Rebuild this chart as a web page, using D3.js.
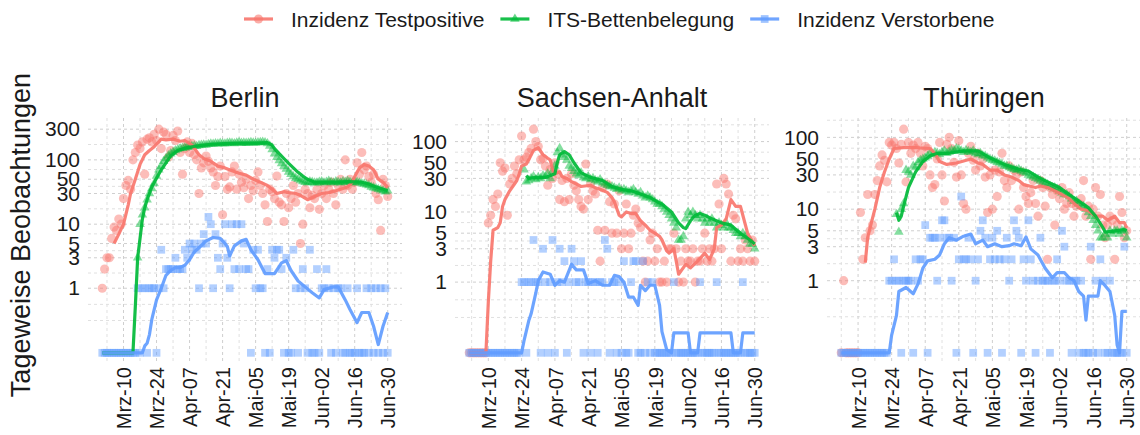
<!DOCTYPE html>
<html>
<head>
<meta charset="utf-8">
<script src="https://cdn.jsdelivr.net/npm/d3@7"></script>
<style>
  html, body { margin: 0; padding: 0; background: #fff; }
  svg { display: block; font-family: "Liberation Sans", Arial, sans-serif; }
</style>
</head>
<body>
<div id="chart"></div>
<script>
// ---- labels / categories ----
const SERIES_NAMES = ["Inzidenz Testpositive", "ITS-Bettenbelegung", "Inzidenz Verstorbene"];
const SERIES_COLORS = ["#F8766D", "#00BA38", "#619CFF"];
const PANEL_TITLES = ["Berlin", "Sachsen-Anhalt", "Thüringen"];
const X_TICK_DATES = ["03-10", "03-24", "04-07", "04-21", "05-05", "05-19", "06-02", "06-16", "06-30"];
const X_TICK_LABELS = ["Mrz-10", "Mrz-24", "Apr-07", "Apr-21", "Mai-05", "Mai-19", "Jun-02", "Jun-16", "Jun-30"];
const Y_BREAKS = [1, 3, 5, 10, 30, 50, 100, 300];
const Y_TITLE = "Tageweise Beobachtungen";

// ---- Berlin (daily values) ----
const berlinTestStart = "03-01";
const berlinTestPts = [
  1, 2, 3, 3, 6, 9, 8, 12, 10, 25,
  40, 48, 35, 100, 130, 170, 150, 190, 60, 210,
  220, 190, 250, 200, 300, 150, 270, 250, 110, 140, 240,
  200, 280, 130, 60, 150, 190, 130, 180, 120, 100,
  30, 75, 90, 115, 95, 75, 65, 40, 55, 80,
  14, 55, 35, 38, 65, 80, 35, 60, 45, 37,
  50, 25, 40, 33, 48, 65, 40, 30, 20, 11,
  35, 32, 25, 56, 22, 20, 11, 30, 18, 25,
  40, 22, 30, 5, 10, 35, 30, 18, 28, 25, 35,
  17, 30, 40, 25, 35, 45, 30, 20, 40, 50,
  35, 100, 40, 50, 35, 45, 90, 60, 130, 70,
  80, 55, 45, 60, 30, 24, 8, 50, 40, 27
];
const berlinItsStart = "03-16";
const berlinItsPts = [
  3, 10, 14, 18, 24, 30, 36, 43, 56, 70, 80, 95, 105, 117, 125, 132,
  140, 145, 150, 152, 155, 158, 160, 162, 165, 163, 168, 170, 172, 170, 175,
  178, 176, 180, 178, 182, 180, 178, 182, 185, 183, 180, 185, 187, 183, 185,
  182, 185, 188, 185, 183, 186, 188, 190, 186, 180, 165, 145, 125, 110, 98,
  88, 80, 72, 65, 60, 55, 52, 50, 48, 46, 45, 44, 46, 45, 44, 44,
  45, 46, 44, 45, 47, 45, 44, 46, 45, 44, 46, 45, 47, 45, 44,
  46, 45, 44, 43, 42, 41, 40, 38, 37, 36, 35, 34, 33, 32, 33
];
const berlinDeathStart = "03-01";
const berlinDeathPts = [
  0, 0, 0, 0, 0, 0, 0, 0, 0, 0, 0, 0, 0, 0, 0, 1, 0, 1, 1, 0, 1, 1, 1, 0, 1, 4, 1, 2, 2, 2, 2,
  3, 2, 2, 2, 4, 3, 5, 4, 5, 4, 1, 5, 7, 5, 13, 10, 1, 7, 3, 2, 5, 10, 3, 1, 10, 2, 10, 2, 10, 5,
  2, 2, 0, 4, 1, 4, 1, 1, 0, 2, 0, 4, 3, 4, 4, 2, 0, 3, 0, 0, 4, 1, 0, 1, 2, 1, 0, 4, 0, 0, 2,
  0, 1, 1, 2, 1, 0, 1, 0, 1, 1, 0, 0, 1, 0, 0, 0, 1, 0, 0, 0, 1, 0, 1, 0, 1, 0, 1, 0, 1, 0
];
const berlinTestLine = [
  ["03-06", 5], ["03-08", 7], ["03-10", 10], ["03-12", 20], ["03-13", 30], ["03-15", 50],
  ["03-17", 85], ["03-19", 120], ["03-21", 140], ["03-23", 160], ["03-26", 210], ["03-28", 205],
  ["03-31", 210], ["04-03", 195], ["04-05", 200], ["04-08", 170], ["04-10", 135], ["04-11", 120],
  ["04-13", 105], ["04-16", 95], ["04-19", 80], ["04-22", 75], ["04-25", 68], ["04-28", 62],
  ["05-01", 58], ["05-04", 50], ["05-07", 45], ["05-10", 40], ["05-12", 35], ["05-14", 30],
  ["05-17", 32], ["05-19", 31], ["05-22", 30], ["05-24", 28], ["05-27", 24], ["05-30", 27],
  ["06-02", 30], ["06-05", 31], ["06-08", 33], ["06-11", 36], ["06-13", 38], ["06-15", 45],
  ["06-16", 55], ["06-18", 75], ["06-20", 85], ["06-22", 80], ["06-24", 70], ["06-26", 50],
  ["06-28", 45], ["06-30", 37]
];
const berlinItsLine = [
  ["03-01", 0], ["03-14", 0], ["03-15", 0.5], ["03-16", 3], ["03-17", 6], ["03-18", 12],
  ["03-19", 18], ["03-20", 24], ["03-22", 38], ["03-24", 52], ["03-26", 70], ["03-28", 90],
  ["03-30", 115], ["04-02", 140], ["04-05", 152], ["04-08", 160], ["04-12", 168], ["04-16", 175],
  ["04-20", 178], ["04-25", 180], ["04-30", 182], ["05-05", 182], ["05-10", 185], ["05-12", 170],
  ["05-13", 150], ["05-15", 125], ["05-17", 105], ["05-19", 88], ["05-21", 75], ["05-23", 64],
  ["05-25", 56], ["05-27", 50], ["05-30", 45], ["06-03", 45], ["06-08", 45], ["06-13", 46],
  ["06-19", 45], ["06-22", 42], ["06-25", 38], ["06-28", 35], ["06-30", 33]
];
const berlinDeathLine = [
  ["03-01", 0], ["03-18", 0], ["03-19", 0.05], ["03-20", 0.07], ["03-21", 0.14], ["03-22", 0.3],
  ["03-24", 0.65], ["03-26", 1.0], ["03-28", 1.6], ["03-30", 1.9], ["04-01", 2.1], ["04-03", 2.1],
  ["04-05", 2.3], ["04-07", 2.8], ["04-09", 3.7], ["04-11", 4.3], ["04-14", 5.5], ["04-17", 6.2],
  ["04-20", 6], ["04-22", 5], ["04-23", 4.5], ["04-24", 3.2], ["04-26", 4.6], ["04-29", 5.5],
  ["05-01", 5.8], ["05-03", 4], ["05-06", 2.8], ["05-09", 1.7], ["05-13", 1.7], ["05-16", 2.5],
  ["05-18", 2.7], ["05-20", 1.9], ["05-23", 1.3], ["05-26", 1.05], ["05-29", 0.85], ["06-01", 0.7],
  ["06-03", 0.95], ["06-07", 1.05], ["06-09", 1.05], ["06-12", 0.65], ["06-14", 0.45], ["06-17", 0.26],
  ["06-19", 0.4], ["06-22", 0.4], ["06-24", 0.22], ["06-26", 0.06], ["06-28", 0.22], ["06-30", 0.4]
];

// ---- Sachsen-Anhalt ----
const saTestStart = "03-02";
const saTestPts = [
  0, 0, 0, 0, 0, 0, 0, 0, 7,
  9, 15, 12, 18, 50, 38, 42, 9, 25, 30, 45, 35, 55, 120, 55, 60, 70, 80, 150, 100, 85,
  55, 58, 45, 24, 40, 30, 50, 35, 15, 28, 14, 30, 15, 35, 24, 20, 15, 12, 11, 48,
  15, 25, 20, 18, 5.5, 2, 22, 5.5, 25, 14,
  5, 13, 5, 20, 3, 5, 13, 3, 5, 9, 11, 7, 6, 2, 1, 2, 4, 5, 2, 3,
  1, 1, 2, 1, 3, 3, 5, 3, 1, 2, 1,
  3, 2, 2, 3, 1, 2, 2, 3, 5, 2, 3, 2, 3, 25, 13, 3, 30, 25, 18, 2,
  9, 8, 2, 3, 2, 4, 3, 2, 4, 2
];
const saItsStart = "03-25";
const saItsPts = [
  40, 27, 28, 30, 32, 29, 31,
  30, 33, 32, 35, 30, 38, 45, 70, 80, 65, 60, 55, 45, 42, 38, 35, 33, 36, 31, 30,
  32, 29, 30, 28, 27, 29, 26, 25, 24, 23,
  23, 22, 21, 22, 20, 21, 20, 19, 20, 21, 19, 18, 19, 17, 16, 17, 16, 15, 14, 13,
  13, 12, 11, 10, 9, 8, 7, 6, 4, 4, 4.5,
  8, 10, 9, 10, 9, 8, 9, 8, 7, 8, 7, 8, 7, 6, 7, 6.5, 6, 7, 6, 6,
  5.5, 5, 5, 4.5, 5, 4.5, 4, 3.5, 3.5, 3
];
const saDeathStart = "03-02";
const saDeathPts = [
  0, 0, 0, 0, 0, 0, 0, 0, 0, 0, 0, 0, 0, 0, 0, 0, 0, 0, 0, 0, 0, 0, 1, 1, 0, 1, 1, 4, 1, 1,
  0, 3, 1, 0, 1, 4, 0, 1, 3, 1, 2, 0, 1, 3, 2, 1, 1, 2, 0, 1, 1, 0, 1, 1, 0, 1, 1, 4, 3, 0,
  1, 1, 0, 1, 0, 2, 0, 0, 1, 2, 2, 0, 0, 2, 0, 1, 0, 1, 0, 0, 0, 0, 0, 0, 0, 0, 1, 0, 0, 0, 0,
  0, 0, 0, 0, 0, 0, 1, 0, 0, 0, 0, 0, 0, 1, 0, 0, 0, 0, 0, 0, 0, 0, 0, 0, 1, 0, 0, 0, 0, 0
];
const saTestLine = [
  ["03-02", 0], ["03-09", 0], ["03-10", 0.5], ["03-11", 2], ["03-12", 5.5], ["03-14", 6],
  ["03-15", 7], ["03-16", 12], ["03-17", 15], ["03-19", 20], ["03-21", 25], ["03-22", 28],
  ["03-23", 35], ["03-24", 45], ["03-26", 48], ["03-27", 55], ["03-29", 75], ["03-31", 82],
  ["04-02", 65], ["04-04", 58], ["04-05", 55], ["04-06", 40], ["04-07", 35], ["04-09", 37],
  ["04-10", 32], ["04-12", 30], ["04-14", 27], ["04-16", 25], ["04-18", 23], ["04-22", 24],
  ["04-24", 22], ["04-26", 21], ["04-29", 19], ["05-01", 16], ["05-02", 14], ["05-04", 9],
  ["05-05", 8.5], ["05-07", 10], ["05-09", 9.5], ["05-11", 9.5], ["05-13", 7.5], ["05-15", 6.5],
  ["05-17", 5.5], ["05-19", 5], ["05-21", 4.5], ["05-22", 4], ["05-24", 2.8], ["05-25", 2.6],
  ["05-27", 3], ["05-28", 2], ["05-29", 1.3], ["06-01", 1.8], ["06-03", 1.6], ["06-06", 2],
  ["06-09", 2.6], ["06-11", 2.1], ["06-13", 3], ["06-14", 6], ["06-16", 6.5], ["06-18", 8],
  ["06-20", 15], ["06-22", 12], ["06-24", 12], ["06-25", 9], ["06-27", 5], ["06-30", 3.3]
];
const saItsLine = [
  ["03-26", 33], ["03-27", 30], ["03-30", 31], ["04-03", 31], ["04-07", 35], ["04-08", 50],
  ["04-09", 65], ["04-11", 72], ["04-13", 65], ["04-15", 50], ["04-18", 36], ["04-22", 31],
  ["04-27", 28], ["05-01", 23], ["05-05", 21], ["05-09", 20], ["05-13", 18], ["05-17", 16],
  ["05-20", 14], ["05-22", 13], ["05-26", 10], ["05-29", 7], ["05-31", 6], ["06-01", 5.8],
  ["06-03", 7.5], ["06-05", 9], ["06-07", 9.5], ["06-09", 9], ["06-12", 8], ["06-16", 7],
  ["06-20", 6.5], ["06-24", 5], ["06-28", 4], ["06-30", 3.5]
];
const saDeathLine = [
  ["03-02", 0], ["03-24", 0], ["03-25", 0.08], ["03-27", 0.25], ["03-28", 0.33], ["03-30", 0.7],
  ["03-31", 1.05], ["04-02", 1.4], ["04-05", 1.3], ["04-07", 0.9], ["04-09", 1.05], ["04-11", 1.0],
  ["04-14", 1.8], ["04-16", 1.5], ["04-19", 1.5], ["04-21", 0.95], ["04-24", 1.05], ["04-27", 0.9],
  ["04-30", 0.9], ["05-02", 1.25], ["05-04", 1.2], ["05-06", 1.0], ["05-08", 0.6], ["05-10", 0.6],
  ["05-12", 0.45], ["05-13", 0.9], ["05-15", 0.75], ["05-17", 0.9], ["05-19", 0.9], ["05-21", 0.45],
  ["05-22", 0.15], ["05-24", 0.02], ["05-26", 0], ["05-27", 0.14], ["06-02", 0.14], ["06-03", 0],
  ["06-06", 0], ["06-07", 0.14], ["06-20", 0.14], ["06-21", 0], ["06-24", 0], ["06-25", 0.14],
  ["06-30", 0.14]
];

// ---- Thüringen ----
const thTestStart = "03-03";
const thTestPts = [
  0, 1, 0, 0, 0, 0, 0, 0,
  9, 2, 4, 16, 5, 6, 16, 25, 40, 57, 48, 24, 85, 78, 85, 70, 44, 80, 130, 24, 85,
  60, 78, 70, 85, 60, 40, 75, 70, 30, 20, 22, 50, 85, 30, 13, 80, 100, 70, 45, 28,
  90, 30, 12, 10, 60, 75, 48, 35, 60, 40,
  50, 28, 9, 30, 10, 35, 15, 33, 60, 25, 20, 40, 25, 35, 30, 10, 33, 20, 15, 12,
  17, 25, 12, 8, 25, 20, 11, 2, 20, 16, 6,
  18, 14, 20, 10, 12, 17, 12, 8, 11, 12, 14, 25, 8, 11, 2, 10, 20, 8, 16, 6,
  4, 6, 8, 7, 2, 6, 15, 9, 4, 5
];
const thItsStart = "03-26";
const thItsPts = [
  8.5, 4.8, 10, 12, 35, 33,
  30, 40, 38, 45, 48, 50, 52, 55, 60, 58, 62, 60, 58, 62, 65, 60, 63, 66, 65, 70,
  68, 65, 62, 66, 64, 62, 65, 60, 58, 60,
  56, 55, 52, 50, 48, 47, 45, 44, 42, 40, 40, 38, 37, 36, 35, 36, 34, 33, 32, 30,
  29, 28, 27, 26, 25, 24, 23, 22, 21, 20, 20,
  19, 18, 17, 16, 16, 15, 14, 13, 13, 12, 11, 11, 10, 9, 8, 7, 6, 5, 4, 4,
  4.5, 4, 5, 4.5, 5, 5, 4.5, 5, 5, 4
];
const thDeathStart = "03-03";
const thDeathPts = [
  0, 0, 0, 0, 0, 0, 0, 0, 0, 0, 0, 0, 0, 0, 0, 0, 0, 0, 0, 0, 1, 1, 2, 1, 1, 0, 1, 1, 1,
  1, 0, 2, 1, 2, 2, 6, 0, 4, 4, 4, 1, 4, 7, 7, 4, 4, 1, 4, 0, 2, 15, 2, 2, 4, 2, 0, 1, 2, 5,
  7, 4, 0, 2, 4, 2, 5, 2, 0, 2, 4, 1, 2, 7, 5, 4, 0, 2, 1, 7, 2, 1, 0, 1, 4, 1, 1, 1, 0, 1, 1,
  2, 1, 5, 3, 1, 1, 0, 1, 1, 0, 1, 0, 0, 0, 3, 0, 1, 0, 2, 1, 0, 0, 1, 0, 0, 0, 0, 0, 3, 0
];
const thTestLine = [
  ["03-13", 1.8], ["03-14", 4], ["03-15", 5.5], ["03-17", 10], ["03-19", 20], ["03-21", 33],
  ["03-23", 50], ["03-25", 70], ["03-29", 72], ["04-03", 72], ["04-09", 70], ["04-11", 60],
  ["04-13", 46], ["04-16", 42], ["04-20", 44], ["04-26", 50], ["04-29", 44], ["05-01", 42],
  ["05-04", 35], ["05-07", 35], ["05-10", 30], ["05-13", 28], ["05-16", 25], ["05-18", 22],
  ["05-23", 20], ["05-25", 21], ["05-28", 20], ["05-31", 18], ["06-03", 16], ["06-06", 14],
  ["06-08", 12], ["06-11", 10], ["06-14", 9.5], ["06-17", 8], ["06-20", 8], ["06-22", 7],
  ["06-25", 8], ["06-27", 6.5], ["06-29", 6.5], ["06-30", 5.5]
];
const thItsLine = [
  ["03-26", 9], ["03-27", 7], ["03-28", 8], ["03-29", 11], ["03-31", 20], ["04-03", 33],
  ["04-06", 46], ["04-09", 55], ["04-12", 60], ["04-17", 60], ["04-23", 65], ["04-29", 65],
  ["05-04", 52], ["05-10", 42], ["05-16", 36], ["05-20", 34], ["05-24", 28], ["05-28", 24],
  ["06-02", 20], ["06-06", 16], ["06-10", 13], ["06-14", 10.5], ["06-17", 8], ["06-20", 5.6],
  ["06-21", 4.8], ["06-25", 5], ["06-29", 5.2], ["06-30", 5]
];
const thDeathLine = [
  ["03-03", 0], ["03-23", 0], ["03-24", 0.12], ["03-26", 0.3], ["03-27", 0.7], ["03-30", 0.8],
  ["04-02", 0.65], ["04-04", 0.9], ["04-06", 1.5], ["04-08", 1.9], ["04-11", 2.0], ["04-13", 2.3],
  ["04-15", 3.3], ["04-17", 4.0], ["04-20", 3.7], ["04-23", 4.2], ["04-26", 4.5], ["04-28", 3.3],
  ["05-01", 3.7], ["05-03", 3.0], ["05-06", 3.3], ["05-09", 3.0], ["05-12", 3.1], ["05-14", 3.3],
  ["05-17", 3.1], ["05-19", 4.1], ["05-21", 2.8], ["05-24", 2.3], ["05-27", 1.5], ["05-30", 1.1],
  ["06-01", 1.3], ["06-04", 1.3], ["06-06", 1.1], ["06-08", 1.0], ["06-10", 0.7], ["06-12", 0.6],
  ["06-13", 0.25], ["06-14", 0.6], ["06-18", 0.6], ["06-19", 1.0], ["06-21", 0.85], ["06-23", 0.7],
  ["06-25", 0.3], ["06-26", 0.05], ["06-27", 0], ["06-28", 0.35], ["06-30", 0.35]
];

// ---- layout ----
const WIDTH = 1140;
const HEIGHT = 435;
const PANEL_TOP = 118;
const PANEL_BOTTOM = 364;
const PANEL_WIDTH = 314;
const PANEL_LEFTS = [88, 455, 827];
const SIGMA2 = 0.2; // pseudo-log: asinh(x / (2*sigma)) / ln(10), sigma = 0.1

const parseDate = d3.utcParse("%Y-%m-%d");
const md = (s) => parseDate("2020-" + s);
const tf = (v) => Math.asinh(v / SIGMA2) / Math.LN10;

function dailySeries(start, values) {
  const first = md(start);
  return values.map((v, i) => ({ date: d3.utcDay.offset(first, i), value: v }));
}
function keySeries(pairs) {
  return pairs.map(([d, v]) => ({ date: md(d), value: v }));
}

const panels = [
  {
    title: PANEL_TITLES[0],
    points: [
      dailySeries(berlinTestStart, berlinTestPts),
      dailySeries(berlinItsStart, berlinItsPts),
      dailySeries(berlinDeathStart, berlinDeathPts),
    ],
    lines: [keySeries(berlinTestLine), keySeries(berlinItsLine), keySeries(berlinDeathLine)],
  },
  {
    title: PANEL_TITLES[1],
    points: [
      dailySeries(saTestStart, saTestPts),
      dailySeries(saItsStart, saItsPts),
      dailySeries(saDeathStart, saDeathPts),
    ],
    lines: [keySeries(saTestLine), keySeries(saItsLine), keySeries(saDeathLine)],
  },
  {
    title: PANEL_TITLES[2],
    points: [
      dailySeries(thTestStart, thTestPts),
      dailySeries(thItsStart, thItsPts),
      dailySeries(thDeathStart, thDeathPts),
    ],
    lines: [keySeries(thTestLine), keySeries(thItsLine), keySeries(thDeathLine)],
  },
];

const SYMBOLS = [
  d3.symbol().type(d3.symbolCircle).size(66),
  d3.symbol().type(d3.symbolTriangle).size(40),
  d3.symbol().type(d3.symbolSquare).size(60),
];
const POINT_OPACITY = 0.48;
const LINE_WIDTH = 3.2;
const TEXT_COLOR = "#1a1a1a";

const svg = d3
  .select("#chart")
  .append("svg")
  .attr("width", WIDTH)
  .attr("height", HEIGHT)
  .attr("viewBox", [0, 0, WIDTH, HEIGHT]);

// y-axis title
svg
  .append("text")
  .attr("transform", `translate(30,235) rotate(-90)`)
  .attr("text-anchor", "middle")
  .attr("font-size", 27)
  .attr("fill", TEXT_COLOR)
  .text(Y_TITLE);

// legend
const legend = svg.append("g").attr("class", "legend");
let legendX = 244;
SERIES_NAMES.forEach((name, i) => {
  const item = legend.append("g").attr("transform", `translate(${legendX},19)`);
  item
    .append("line")
    .attr("x1", 0)
    .attr("x2", 29)
    .attr("stroke", SERIES_COLORS[i])
    .attr("stroke-width", LINE_WIDTH)
    .attr("opacity", 0.9);
  item
    .append("path")
    .attr("d", SYMBOLS[i]())
    .attr("transform", "translate(14.5,0)")
    .attr("fill", SERIES_COLORS[i])
    .attr("opacity", 0.6);
  const label = item
    .append("text")
    .attr("x", 47)
    .attr("dy", "0.36em")
    .attr("font-size", 21)
    .attr("fill", TEXT_COLOR)
    .text(name);
  legendX += 47 + label.node().getComputedTextLength() + 16;
});

const tickDates = X_TICK_DATES.map(md);

panels.forEach((panel, pi) => {
  const left = PANEL_LEFTS[pi];
  const right = left + PANEL_WIDTH;

  const allPts = panel.points.flat().concat(panel.lines.flat());
  const [d0, d1] = d3.extent(panel.points.flat(), (d) => d.date);
  const span = d1 - d0;
  const x = d3
    .scaleUtc()
    .domain([new Date(+d0 - span * 0.05), new Date(+d1 + span * 0.05)])
    .range([left, right]);

  const tMax = d3.max(allPts, (d) => tf(d.value));
  const tPad = tMax * 0.05;
  const y = d3.scaleLinear().domain([-tPad, tMax + tPad]).range([PANEL_BOTTOM, PANEL_TOP]);
  const [tLo, tHi] = y.domain();

  const g = svg.append("g").attr("class", "panel");

  // grid
  const grid = g.append("g").attr("class", "grid");
  const breakT = [0].concat(Y_BREAKS, [1000]).map(tf);
  const minorT = d3.pairs(breakT).map(([a, b]) => (a + b) / 2);
  minorT.push((minorT[0] + breakT[1]) / 2);
  const majorT = Y_BREAKS.map(tf);
  const hLine = (t, color) =>
    grid
      .append("line")
      .attr("x1", left)
      .attr("x2", right)
      .attr("y1", y(t))
      .attr("y2", y(t))
      .attr("stroke", color)
      .attr("stroke-dasharray", "3,3");
  const vLine = (d, color) =>
    grid
      .append("line")
      .attr("x1", x(d))
      .attr("x2", x(d))
      .attr("y1", PANEL_TOP)
      .attr("y2", PANEL_BOTTOM)
      .attr("stroke", color)
      .attr("stroke-dasharray", "3,3");
  minorT.filter((t) => t >= tLo && t <= tHi).forEach((t) => hLine(t, "#e0e0e0"));
  majorT.filter((t) => t >= tLo && t <= tHi).forEach((t) => hLine(t, "#cfcfcf"));
  const [xLo, xHi] = x.domain();
  const minorDates = [d3.utcDay.offset(tickDates[0], -7)].concat(
    tickDates.map((d) => d3.utcDay.offset(d, 7))
  );
  minorDates.filter((d) => d >= xLo && d <= xHi).forEach((d) => vLine(d, "#e0e0e0"));
  tickDates.filter((d) => d >= xLo && d <= xHi).forEach((d) => vLine(d, "#cfcfcf"));

  // points
  panel.points.forEach((series, si) => {
    g.append("g")
      .attr("class", "points")
      .selectAll("path")
      .data(series)
      .join("path")
      .attr("d", SYMBOLS[si]())
      .attr("transform", (d) => `translate(${x(d.date)},${y(tf(d.value))})`)
      .attr("fill", SERIES_COLORS[si])
      .attr("opacity", POINT_OPACITY);
  });

  // lines
  const line = d3
    .line()
    .x((d) => x(d.date))
    .y((d) => y(tf(d.value)));
  panel.lines.forEach((series, si) => {
    g.append("path")
      .datum(series)
      .attr("d", line)
      .attr("fill", "none")
      .attr("stroke", SERIES_COLORS[si])
      .attr("stroke-width", LINE_WIDTH)
      .attr("stroke-linejoin", "round")
      .attr("opacity", 0.92);
  });

  // y axis
  const yAxis = d3
    .axisLeft(y)
    .tickValues(majorT.filter((t) => t >= tLo && t <= tHi))
    .tickFormat((t) => String(Math.round(SIGMA2 * Math.sinh(t * Math.LN10))))
    .tickSize(0)
    .tickPadding(8);
  g.append("g")
    .attr("transform", `translate(${left},0)`)
    .call(yAxis)
    .call((a) => a.select(".domain").remove())
    .call((a) =>
      a
        .selectAll("text")
        .attr("font-size", 21)
        .attr("fill", TEXT_COLOR)
    )
    .attr("font-family", null)
    .attr("font-size", null);

  // x axis
  const xAxis = d3
    .axisBottom(x)
    .tickValues(tickDates)
    .tickFormat((d, i) => X_TICK_LABELS[i])
    .tickSize(0);
  g.append("g")
    .attr("transform", `translate(0,${PANEL_BOTTOM})`)
    .call(xAxis)
    .call((a) => a.select(".domain").remove())
    .call((a) =>
      a
        .selectAll("text")
        .attr("transform", "rotate(-90)")
        .attr("text-anchor", "end")
        .attr("x", -3)
        .attr("y", 0)
        .attr("dy", "0.36em")
        .attr("font-size", 20)
        .attr("fill", TEXT_COLOR)
    )
    .attr("font-family", null)
    .attr("font-size", null);

  // panel title
  g.append("text")
    .attr("x", (left + right) / 2)
    .attr("y", 107)
    .attr("text-anchor", "middle")
    .attr("font-size", 27)
    .attr("fill", TEXT_COLOR)
    .text(panel.title);
});
</script>
</body>
</html>
